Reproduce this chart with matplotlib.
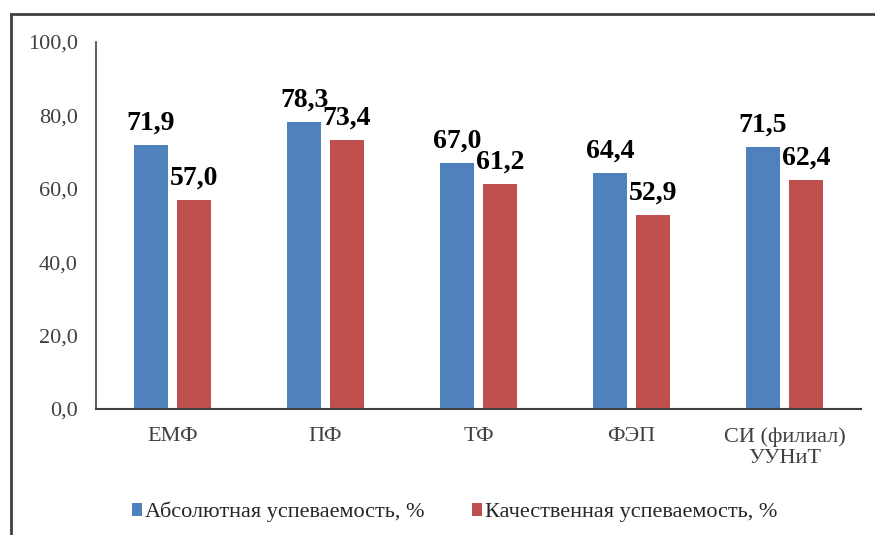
import matplotlib.pyplot as plt
import numpy as np
from matplotlib.lines import Line2D

# データ
categories = ['ЕМФ', 'ПФ', 'ТФ', 'ФЭП', 'СИ (филиал)\nУУНиТ']
absolute = [71.9, 78.3, 67.0, 64.4, 71.5]
quality = [57.0, 73.4, 61.2, 52.9, 62.4]
series_names = ['Абсолютная успеваемость, %', 'Качественная успеваемость, %']
yticks = [0, 20, 40, 60, 80, 100]

plt.rcParams['font.family'] = ['Liberation Serif', 'DejaVu Serif']

fig = plt.figure(figsize=(8.75, 5.35), dpi=100)
ax = fig.add_axes([0.1097, 0.2355, 0.8743, 0.686])

x = np.arange(len(categories))
w = 0.22
off = 0.14
b1 = ax.bar(x - off, absolute, w, color='#4F81BD', label=series_names[0])
b2 = ax.bar(x + off, quality, w, color='#C0504D', label=series_names[1])

# データラベル
for bars, vals in ((b1, absolute), (b2, quality)):
    for r, v in zip(bars, vals):
        ax.annotate(f'{v:.1f}'.replace('.', ','),
                    (r.get_x() + r.get_width() / 2, v),
                    xytext=(0, 11), textcoords='offset points',
                    ha='center', va='baseline', fontsize=20, fontweight='bold')

ax.set_xlim(-0.5, len(categories) - 0.5)
ax.set_ylim(0, 100)
ax.set_yticks(yticks)
ax.set_yticklabels([f'{t:.1f}'.replace('.', ',') for t in yticks])
ax.set_xticks(x)
ax.set_xticklabels(categories, linespacing=1.15)
ax.tick_params(axis='y', length=0, pad=13, labelsize=16, labelcolor='#404040')
ax.tick_params(axis='x', length=0, pad=13, labelsize=16, labelcolor='#404040')

for s in ('top', 'right'):
    ax.spines[s].set_visible(False)
ax.spines['left'].set_color('#404040')
ax.spines['bottom'].set_color('#404040')
ax.spines['left'].set_linewidth(1.2)
ax.spines['bottom'].set_linewidth(1.5)

fig.legend(handles=[b1, b2], loc='center left', bbox_to_anchor=(0.151, 0.043),
           ncol=2, frameon=False, fontsize=16, handlelength=0.45,
           handleheight=0.55, handletextpad=0.15, columnspacing=2.1,
           borderpad=0, borderaxespad=0, labelcolor='#262626')

# 外枠
fig.add_artist(Line2D([0.0126, 1.0], [0.974, 0.974], color='#404040', lw=2,
                      transform=fig.transFigure))
fig.add_artist(Line2D([0.0126, 0.0126], [0.0, 0.974], color='#404040', lw=2,
                      transform=fig.transFigure))

fig.savefig('out.png', dpi=100)
